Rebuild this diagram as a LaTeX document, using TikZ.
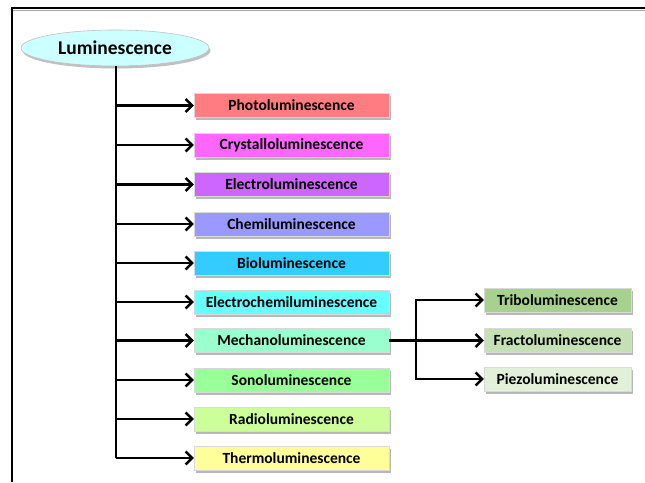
\documentclass[tikz,border=0pt]{standalone}
\usepackage{fontspec}
\setmainfont{Carlito}
\usetikzlibrary{arrows.meta,shapes.geometric,shadows}

\definecolor{cPhoto}{HTML}{FF7C80}
\definecolor{cCrystal}{HTML}{FF66FF}
\definecolor{cElectro}{HTML}{CC66FF}
\definecolor{cChemi}{HTML}{9999FF}
\definecolor{cBio}{HTML}{33CCFF}
\definecolor{cEChemi}{HTML}{66FFFF}
\definecolor{cMechano}{HTML}{99FFCC}
\definecolor{cSono}{HTML}{99FF99}
\definecolor{cRadio}{HTML}{CCFF99}
\definecolor{cThermo}{HTML}{FFFF99}
\definecolor{cTribo}{HTML}{A9D18E}
\definecolor{cFracto}{HTML}{C5E0B4}
\definecolor{cPiezo}{HTML}{E2F0D9}
\definecolor{cRoot}{HTML}{CCFFFF}

\tikzset{
  kind/.style={rectangle, minimum width=195pt, minimum height=24pt, inner sep=0pt,
    draw=white!85!black, line width=0.4pt,
    font=\fontsize{15.5}{17}\selectfont\bfseries,
    drop shadow={shadow xshift=2pt, shadow yshift=-2.5pt, fill=black!35, opacity=0.8}},
  subkind/.style={kind, minimum width=147pt},
  rootnode/.style={ellipse, minimum width=188pt, minimum height=36pt, inner sep=0pt,
    fill=cRoot, draw=black!25, line width=0.6pt,
    font=\fontsize{19.5}{21}\selectfont\bfseries,
    drop shadow={shadow xshift=1.5pt, shadow yshift=-2.5pt, fill=black!30, opacity=0.8}},
  link/.style={line width=2.7pt, black},
  arr/.style={link, -{Straight Barb[length=6.5pt, width=13pt, line width=2.5pt]}},
}

\begin{document}
\begin{tikzpicture}[x=1pt, y=-1pt]
  \useasboundingbox (0,0) rectangle (645,482);

  % frame
  \draw[black!35, line width=1pt] (12,10) -- (645,10);
  \draw[black, line width=2pt] (12,8) -- (645,8);
  \draw[black, line width=2pt] (12,7) -- (12,482);

  % root
  \node[rootnode] (root) at (115,48) {Luminescence};

  % main column
  \node[kind, fill=cPhoto]   (photo)   at (291.5,105.5) {Photoluminescence};
  \node[kind, fill=cCrystal] (crystal) at (291.5,145)   {Crystalloluminescence};
  \node[kind, fill=cElectro] (electro) at (291.5,184.5) {Electroluminescence};
  \node[kind, fill=cChemi]   (chemi)   at (291.5,224)   {Chemiluminescence};
  \node[kind, fill=cBio]     (bio)     at (291.5,263)   {Bioluminescence};
  \node[kind, fill=cEChemi]  (echemi)  at (291.5,302)   {Electrochemiluminescence};
  \node[kind, fill=cMechano] (mechano) at (291.5,340.5) {Mechanoluminescence};
  \node[kind, fill=cSono]    (sono)    at (291.5,380)   {Sonoluminescence};
  \node[kind, fill=cRadio]   (radio)   at (291.5,419)   {Radioluminescence};
  \node[kind, fill=cThermo]  (thermo)  at (291.5,458)   {Thermoluminescence};

  % mechano sub-kinds
  \node[subkind, fill=cTribo]  (tribo)  at (557.5,300)   {Triboluminescence};
  \node[subkind, fill=cFracto] (fracto) at (557.5,340.5) {Fractoluminescence};
  \node[subkind, fill=cPiezo]  (piezo)  at (557.5,379)   {Piezoluminescence};

  % trunk and branches
  \coordinate (trunk) at (116,66);
  \draw[link] (trunk) -- (trunk |- thermo.west);
  \foreach \n in {photo,crystal,electro,chemi,bio,echemi,mechano,sono,radio,thermo}
    \draw[arr] (trunk |- \n.west) -- (\n.west);

  \coordinate (split) at (416,340.5);
  \draw[arr] (mechano.east) -- (fracto.west);
  \draw[arr] (split) |- (tribo.west);
  \draw[arr] (split) |- (piezo.west);
\end{tikzpicture}
\end{document}
